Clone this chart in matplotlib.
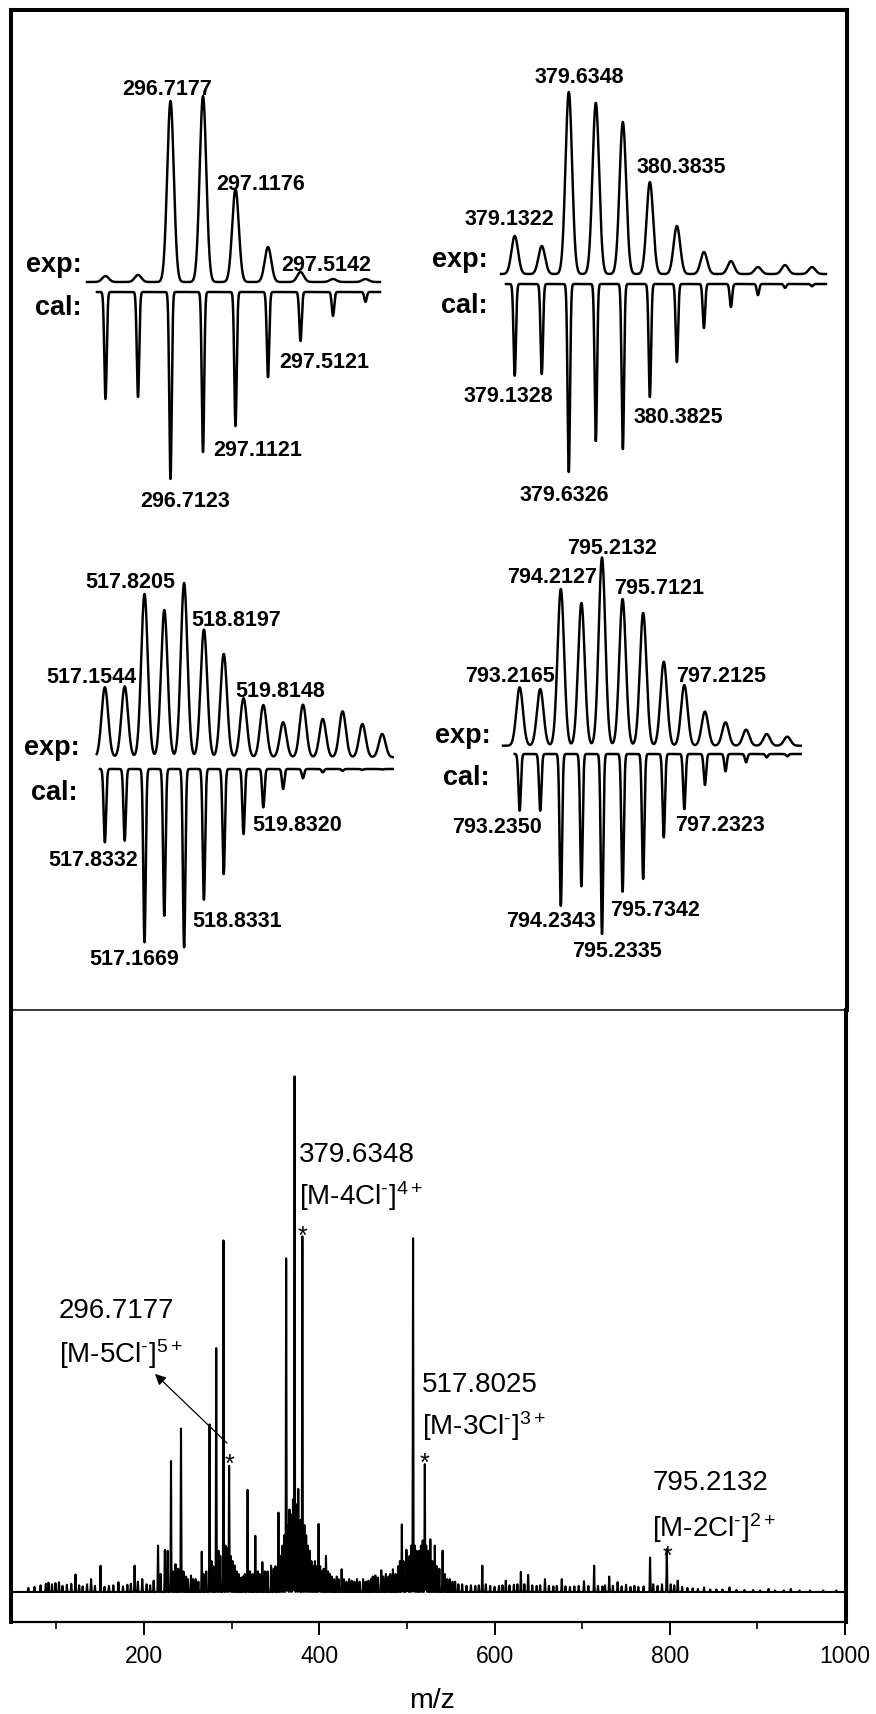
import numpy as np
import matplotlib
matplotlib.use("Agg")
import matplotlib.pyplot as plt

plt.rcParams['font.family'] = ['Liberation Sans', 'DejaVu Sans']
plt.rcParams['mathtext.fontset'] = 'custom'
plt.rcParams['mathtext.rm'] = 'Liberation Sans'
plt.rcParams['mathtext.it'] = 'Liberation Sans:italic'
plt.rcParams['mathtext.bf'] = 'Liberation Sans:bold'

# ===================== DATA =====================
# Isotope patterns: peak m/z, experimental and calculated relative intensity (%)
A_mz  = [296.3177, 296.5177, 296.7177, 296.9177, 297.1177, 297.3177, 297.5177, 297.7177, 297.9177]
A_exp = [3.2, 3.8, 97.3, 100.0, 50.0, 18.8, 5.4, 1.6, 1.6]
A_cal = [57.2, 56.1, 100.0, 85.6, 71.7, 45.5, 26.2, 12.8, 5.3]

B_mz  = [379.1348, 379.3848, 379.6348, 379.8848, 380.1348, 380.3848, 380.6348, 380.8848,
         381.1348, 381.3848, 381.6348, 381.8848]
B_exp = [20.9, 15.4, 100.0, 94.0, 83.5, 50.5, 26.4, 12.1, 7.1, 3.8, 4.9, 3.8]
B_cal = [48.8, 47.9, 100.0, 83.5, 87.8, 60.1, 41.5, 23.4, 12.2, 5.9, 2.1, 1.2]

C_mz  = [517.1538, 517.4872, 517.8205, 518.1538, 518.4872, 518.8205, 519.1538, 519.4872,
         519.8205, 520.1538, 520.4872, 520.8205, 521.1538, 521.4872, 521.8205]
C_exp = [40.2, 40.7, 93.7, 84.5, 100.0, 73.3, 59.3, 33.9, 30.0, 20.1, 30.2, 22.0, 26.4, 19.1, 13.4]
C_cal = [41.1, 40.2, 97.2, 82.3, 100.0, 73.3, 58.9, 36.5, 21.5, 11.2, 5.2, 1.9, 1.0, 0.5, 0.3]

D_mz  = [793.2132, 793.7132, 794.2132, 794.7132, 795.2132, 795.7132, 796.2132, 796.7132,
         797.2132, 797.7132, 798.2132, 798.7132, 799.2132, 799.7132]
D_exp = [31.0, 30.1, 83.2, 75.8, 100.0, 77.9, 70.5, 44.6, 32.2, 18.1, 12.4, 8.5, 6.2, 4.8]
D_cal = [31.5, 31.5, 84.3, 73.5, 100.0, 76.5, 69.4, 46.3, 30.6, 17.2, 9.6, 4.6, 1.9, 1.3]

# Full ESI-MS spectrum: peak m/z and relative intensity (%)
low_mz = [68, 75, 82, 88, 91, 95, 99, 103, 107, 112, 117, 121.8, 126, 130, 135, 139.6, 144, 150.4,
          155, 160, 165, 170.8, 176, 181, 185, 189.3, 193, 198, 203, 207, 211, 216, 219, 223.8, 227,
          230.8, 233, 236, 239, 242.2, 245, 248, 250, 253.6, 256, 259, 262, 265.9, 268, 271, 274.8, 277]
low_int = [0.8, 1.0, 1.3, 1.6, 1.8, 1.5, 1.7, 1.9, 1.2, 1.4, 1.6, 3.4, 1.3, 1.1, 1.5, 2.5, 1.2, 5.1,
           1.0, 1.2, 1.3, 1.9, 1.1, 1.4, 1.6, 5.1, 2.0, 2.5, 1.5, 1.3, 2.2, 9.0, 3.5, 8.2, 8.0,
           25.4, 4.0, 5.4, 4.5, 31.7, 4.0, 3.0, 2.5, 3.2, 2.5, 2.5, 2.0, 7.8, 3.5, 4.0, 32.5, 6.0]
mid_mz = [279, 282.4, 285, 287, 290.7, 293, 295, 297.1, 299, 301, 303.5, 306, 308, 311, 313, 315,
          318.2, 321, 324, 327, 330, 332, 335, 338, 341, 345, 348, 350, 353.4, 356, 358, 360, 362.2,
          364, 366, 368, 370, 371.8, 374, 376, 378, 380.7, 383, 385, 387, 389, 391, 393, 395, 397,
          399.2, 401, 403, 405, 407.6, 410, 412, 414, 417, 420]
mid_int = [5, 47.3, 8, 7, 68, 9, 8.5, 24.4, 7, 6, 5.1, 4, 3.5, 2.8, 3, 3.5,
           19.8, 4, 3.5, 10.9, 4, 3.5, 5.8, 4, 4, 5.1, 4.5, 5, 15.4, 7, 9, 11, 64.7,
           13, 16, 15, 18, 100, 17, 20, 14, 68.8, 13, 11, 9, 8, 6, 5, 6, 5,
           13.2, 5, 4, 4.5, 7, 4, 3.5, 3, 2.5, 3]
hi1_mz = [422, 425.5, 428, 431, 434, 437, 440, 443, 446, 450, 453, 456, 459, 461, 464, 467, 470.7,
          473, 476, 479, 481, 484, 487, 490, 492, 494.2, 496, 499.4, 501, 503, 505, 507, 509, 511,
          514, 516, 518, 520.4, 522, 524, 526.7, 529, 531.8, 534, 537, 540.7, 543, 546, 549, 552,
          555, 558.7]
hi1_int = [2.5, 4.4, 2.5, 2, 2.5, 2.2, 2, 2.5, 2, 2.5, 2, 2.2, 2.5, 3, 3.2, 2.8, 4.2,
           3, 3.5, 3, 3.5, 4.4, 3.5, 5, 6, 13.1, 6, 8.2, 6, 7, 9, 68.6, 9, 8,
           8, 9, 10, 24.8, 9, 8, 10.2, 6, 9, 5, 4.5, 8, 3.5, 2.5, 2.5, 2,
           2, 1.5]
hi2_mz = [563, 568, 573, 578, 582, 586, 590, 595, 600, 605, 609, 612.8, 617, 622, 626, 630, 634,
          638.3, 643, 648, 652, 657.5, 662, 667, 671, 676.7, 681, 686, 691, 696, 702, 707, 713.6,
          718, 723, 726, 730.8, 735, 740.4, 745, 750, 755, 759.5, 764, 770, 777.4, 781, 786, 791,
          796.5, 801, 805, 809, 814, 820, 826, 832, 839, 846, 853, 860, 868, 876, 885, 895, 903,
          912.6, 920, 930, 938, 948, 960, 975, 990]
hi2_int = [1.5, 1.2, 1.3, 1.2, 1.3, 5.1, 1.5, 1.2, 1.0, 1.2, 1.3, 2.2, 1.3, 1.4, 1.5, 3.9, 1.5,
           3.3, 1.3, 1.2, 1.3, 2.5, 1.2, 1.1, 1.2, 2.5, 1.1, 1.0, 1.1, 1.2, 2.1, 1.2, 5.1,
           1.2, 1.1, 1.3, 3.0, 1.2, 1.9, 1.1, 1.4, 1.0, 1.2, 1.0, 1.1, 6.7, 1.5, 1.2, 1.5,
           8.3, 1.5, 1.3, 2.2, 1.0, 0.8, 0.7, 0.6, 0.9, 0.5, 0.5, 0.5, 0.9, 0.4, 0.4, 0.4, 0.3,
           0.6, 0.3, 0.3, 0.6, 0.3, 0.3, 0.3, 0.3]

x_ticks = [200, 400, 600, 800, 1000]
x_minor = [100, 300, 500, 700, 900]

# ===================== FIGURE =====================
W, H = 876, 1715
fig = plt.figure(figsize=(W / 100, H / 100), dpi=100)
fig.patch.set_facecolor('white')


def box(x0, y0, x1, y1):
    return [x0 / W, 1 - y1 / H, (x1 - x0) / W, (y1 - y0) / H]


def ftext(x, y, s, **kw):
    return fig.text(x / W, 1 - y / H, s, **kw)


def profile(grid, centers, heights, sigma):
    out = np.zeros_like(grid)
    for c, h in zip(centers, heights):
        out += h * np.exp(-0.5 * ((grid - c) / sigma) ** 2)
    return out


# ---- top frame ----
frame = fig.add_axes(box(10.5, 11, 847, 1011))
frame.set_xticks([]); frame.set_yticks([])
for side in ['left', 'top', 'right']:
    frame.spines[side].set_linewidth(2.9)
frame.spines['bottom'].set_visible(False)


def draw_panel(mz, exp, cal, spec):
    ref, rpx, ppu = spec['ref'], spec['ref_px'], spec['ppu']

    def lims(x0, x1):
        return ref + (x0 - rpx) / ppu, ref + (x1 - rpx) / ppu

    ex0, ex1 = spec['exp_x']; eb, eh = spec['exp_base'], spec['exp_h']
    axe = fig.add_axes(box(ex0, eb - eh, ex1, eb))
    axe.set_xlim(*lims(ex0, ex1)); axe.set_ylim(0, 100); axe.axis('off')
    g = np.linspace(*lims(ex0, ex1), 3000)
    axe.plot(g, profile(g, mz, exp, 3.3 / ppu), color='black', lw=1.75, clip_on=False)

    cx0, cx1 = spec['cal_x']; cb, ch = spec['cal_base'], spec['cal_h']
    axc = fig.add_axes(box(cx0, cb, cx1, cb + ch))
    axc.set_xlim(*lims(cx0, cx1)); axc.set_ylim(-100, 0); axc.axis('off')
    g = np.linspace(*lims(cx0, cx1), 4000)
    axc.plot(g, -profile(g, mz, cal, 1.2 / ppu), color='black', lw=1.8, clip_on=False)


draw_panel(A_mz, A_exp, A_cal, dict(ref=296.7177, ref_px=170.5, ppu=162.5,
                                    exp_x=(87, 380), exp_base=283, exp_h=186,
                                    cal_x=(97, 380), cal_base=293, cal_h=187))
draw_panel(B_mz, B_exp, B_cal, dict(ref=379.6348, ref_px=568.8, ppu=108.1,
                                    exp_x=(501, 826), exp_base=275, exp_h=182,
                                    cal_x=(506, 826), cal_base=285, cal_h=188))
draw_panel(C_mz, C_exp, C_cal, dict(ref=517.8205, ref_px=144.5, ppu=59.42,
                                    exp_x=(96.7, 392.7), exp_base=758.3, exp_h=174.3,
                                    cal_x=(100, 392.7), cal_base=770, cal_h=178.3))
draw_panel(D_mz, D_exp, D_cal, dict(ref=795.2132, ref_px=602.0, ppu=41.17,
                                    exp_x=(503, 800.7), exp_base=746.7, exp_h=188.3,
                                    cal_x=(514.7, 800.7), cal_base=755, cal_h=180))

num_kw = dict(ha='center', va='baseline', fontsize=15.5, fontweight='bold')
lab_kw = dict(ha='right', va='baseline', fontsize=19.5, fontweight='bold')

# panel A labels
ftext(81.7, 271.7, 'exp:', **lab_kw)
ftext(81.7, 315, 'cal:', **lab_kw)
for s, x, y in [('296.7177', 167, 95), ('297.1176', 260.3, 190), ('297.5142', 326.7, 270.7),
                ('297.5121', 324.2, 367.7), ('297.1121', 257.5, 456), ('296.7123', 185, 506.7)]:
    ftext(x, y, s, **num_kw)
# panel B labels
ftext(487.3, 267, 'exp:', **lab_kw)
ftext(487.3, 313.3, 'cal:', **lab_kw)
for s, x, y in [('379.6348', 579.7, 83.3), ('379.1322', 509.7, 225), ('380.3835', 681.7, 173.3),
                ('379.1328', 508, 401.7), ('380.3825', 678.8, 423.3), ('379.6326', 564.7, 501)]:
    ftext(x, y, s, **num_kw)
# panel C labels
ftext(80, 755, 'exp:', **lab_kw)
ftext(77.3, 800, 'cal:', **lab_kw)
for s, x, y in [('517.8205', 130, 588.3), ('517.1544', 91.7, 683.3), ('518.8197', 235.8, 625.7),
                ('519.8148', 280, 696.7), ('517.8332', 93, 866), ('519.8320', 296.7, 830.7),
                ('518.8331', 237.5, 926.7), ('517.1669', 133.7, 965)]:
    ftext(x, y, s, **num_kw)
# panel D labels
ftext(490.7, 743.3, 'exp:', **lab_kw)
ftext(489.7, 785, 'cal:', **lab_kw)
for s, x, y in [('795.2132', 611.7, 554), ('794.2127', 551.7, 583.3), ('795.7121', 659.2, 594),
                ('793.2165', 509.7, 681.7), ('797.2125', 720.7, 682.3), ('793.2350', 496.8, 832.7),
                ('797.2323', 720.2, 830.7), ('795.7342', 655.5, 916), ('794.2343', 550.7, 927.3),
                ('795.2335', 616.7, 956.7)]:
    ftext(x, y, s, **num_kw)

# ---- bottom: full spectrum ----
ax = fig.add_axes(box(10.5, 1011, 846, 1623))
ax.set_xlim(47.7, 1001)
ax.set_ylim(-5.8, 112.57)
mz_all = low_mz + mid_mz + hi1_mz + hi2_mz
int_all = low_int + mid_int + hi1_int + hi2_int
grid = np.arange(47.7, 1001, 0.04)
ax.plot(grid, profile(grid, mz_all, int_all, 0.28), color='black', lw=1.5)

ax.set_yticks([])
ax.set_xticks(x_ticks)
ax.set_xticks(x_minor, minor=True)
ax.set_xticklabels([str(t) for t in x_ticks])
ax.tick_params(axis='x', which='major', direction='out', length=9.4, width=1.4,
               labelsize=16.5, pad=6.5)
ax.tick_params(axis='x', which='minor', direction='out', length=5, width=1.2)
ax.spines['left'].set_linewidth(2.9)
ax.spines['right'].set_linewidth(2.9)
ax.spines['bottom'].set_linewidth(1.6)
ax.spines['top'].set_linewidth(1.1)

ann_kw = dict(ha='left', va='baseline', fontsize=20)
ftext(299, 1161.7, '379.6348', **ann_kw)
ftext(299, 1205, r'[M-4Cl$^{\text{-}}$]$^{4+}$', **ann_kw)
ftext(58.7, 1318.3, '296.7177', **ann_kw)
ftext(58.7, 1363.3, r'[M-5Cl$^{\text{-}}$]$^{5+}$', **ann_kw)
ftext(421.8, 1391.7, '517.8025', **ann_kw)
ftext(421.8, 1435, r'[M-3Cl$^{\text{-}}$]$^{3+}$', **ann_kw)
ftext(652.5, 1490, '795.2132', **ann_kw)
ftext(652.5, 1536.7, r'[M-2Cl$^{\text{-}}$]$^{2+}$', **ann_kw)

star_kw = dict(ha='center', va='baseline', fontsize=18)
for x, y in [(302.2, 1230), (229, 1458.3), (424.6, 1456.7), (667.6, 1550)]:
    ftext(x, y + 14, '*', **star_kw)

fig.add_artist(matplotlib.patches.FancyArrowPatch(
    (229 / W, 1 - 1446 / H), (153 / W, 1 - 1373 / H), transform=fig.transFigure,
    arrowstyle='-|>', mutation_scale=16, lw=0.9, color='black'))

ftext(432, 1708, 'm/z', ha='center', va='baseline', fontsize=20.5)

fig.savefig('out.png', dpi=100, facecolor='white')
